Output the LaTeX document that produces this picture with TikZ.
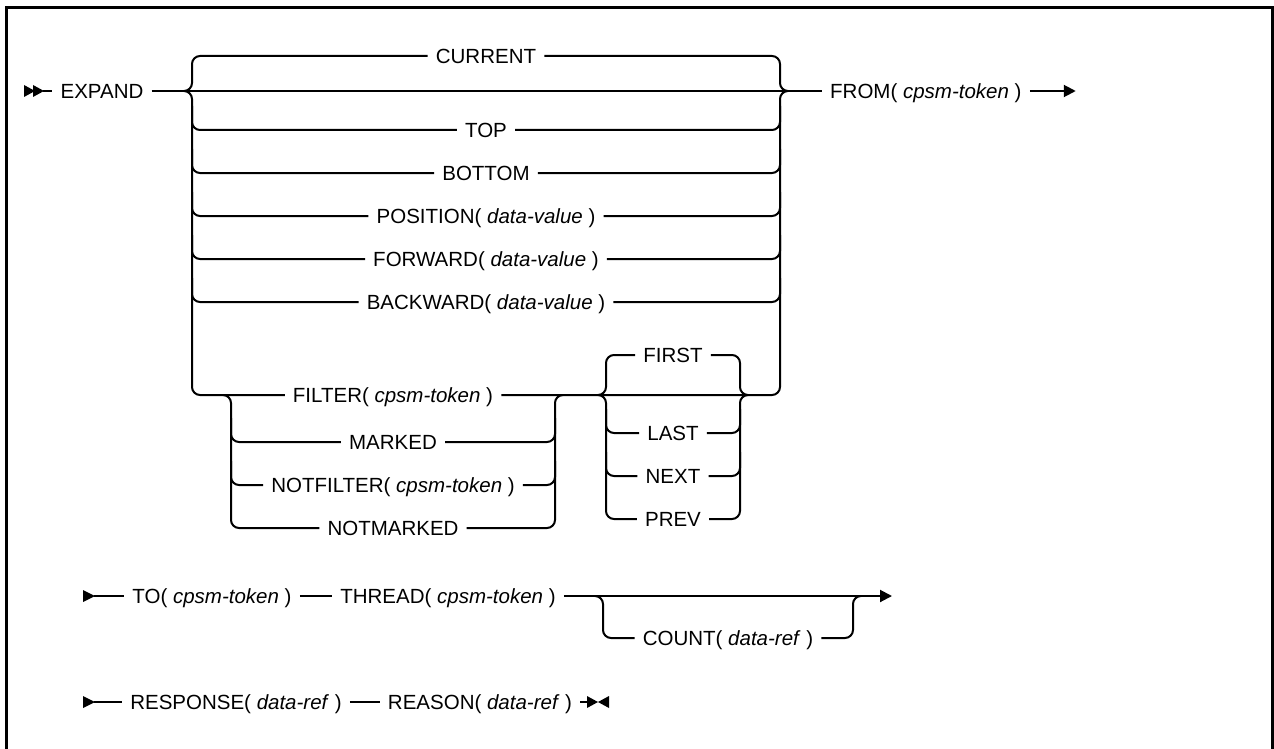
\documentclass[tikz,border=0pt]{standalone}
\usepackage{fontspec}
\setmainfont{Liberation Sans}
\usetikzlibrary{arrows.meta}
\begin{document}
\begin{tikzpicture}[x=1pt,y=-1pt,
  lbl/.style={font=\fontsize{20.5}{24}\selectfont, inner xsep=8pt, inner ysep=0pt, text height=14.5pt, text depth=0pt},
  rail/.style={line width=2pt, rounded corners=8pt},
  endtip/.style={-{Triangle[length=12pt,width=12pt]}},
  frame/.style={line width=3pt}]
\useasboundingbox (0,0) rectangle (1274,749);
\draw[frame] (6,770) -- (6,8) -- (1272,8) -- (1272,770);

% junction x positions
\coordinate (L) at (192,0);
\coordinate (R) at (780,0);
\coordinate (FL) at (231,0);
\coordinate (FR) at (555,0);
\coordinate (GL) at (606,0);
\coordinate (GR) at (740,0);

% labels
\node[lbl] (expand) at (102,91) {EXPAND};
\node[lbl] (cur) at (486,56) {CURRENT};
\node[lbl] (top) at (486,130) {TOP};
\node[lbl] (bot) at (486,173) {BOTTOM};
\node[lbl] (pos) at (486,216) {POSITION( \textit{data-value} )};
\node[lbl] (fwd) at (486,259) {FORWARD( \textit{data-value} )};
\node[lbl] (bwd) at (486,302) {BACKWARD( \textit{data-value} )};
\node[lbl] (filt) at (393,395) {FILTER( \textit{cpsm-token} )};
\node[lbl] (mark) at (393,442) {MARKED};
\node[lbl] (nfilt) at (393,485) {NOTFILTER( \textit{cpsm-token} )};
\node[lbl] (nmark) at (393,528) {NOTMARKED};
\node[lbl] (first) at (673,355) {FIRST};
\node[lbl] (last) at (673,433) {LAST};
\node[lbl] (next) at (673,476) {NEXT};
\node[lbl] (prev) at (673,519) {PREV};
\node[lbl,anchor=west] (from) at (822,91) {FROM( \textit{cpsm-token} )};
\node[lbl] (to) at (212,596) {TO( \textit{cpsm-token} )};
\node[lbl] (thread) at (448,596) {THREAD( \textit{cpsm-token} )};
\node[lbl] (count) at (728,638) {COUNT( \textit{data-ref} )};
\node[lbl] (resp) at (236,702) {RESPONSE( \textit{data-ref} )};
\node[lbl] (reason) at (480,702) {REASON( \textit{data-ref} )};

% row 1 start
\fill (24,85) -- (35,91) -- (24,97) -- cycle;
\fill (33,85) -- (44,91) -- (33,97) -- cycle;
\draw[rail] (43,91) -- (expand.west);
\draw[rail] (expand.east) -- (from.west);
\coordinate (e1) at ([xshift=46pt]from.east);
\draw[rail,endtip] (from.east) -- (e1);

% big choice
\draw[rail] (184,91) -| (192,56) -- (cur.west);
\draw[rail] (cur.east) -| (780,91) -- (788,91);
\draw[rail] (184,91) -| (192,395) -- (filt.west);
\foreach \n in {top,bot,pos,fwd,bwd}{
  \draw[rail] ([yshift=24pt]\n.west -| L) |- (\n.west);
  \draw[rail] (\n.east) -| ([yshift=24pt]\n.east -| R);
}
\draw[rail] (filt.east) -| (780,91) -- (788,91);

% filter group
\draw[rail] (223,395) -| (231,528) -- (nmark.west);
\draw[rail] (nmark.east) -| (555,395) -- (563,395);
\foreach \n in {mark,nfilt}{
  \draw[rail] ([yshift=24pt]\n.west -| FL) |- (\n.west);
  \draw[rail] (\n.east) -| ([yshift=24pt]\n.east -| FR);
}

% first group
\draw[rail] (598,395) -| (606,355) -- (first.west);
\draw[rail] (first.east) -| (740,395) -- (748,395);
\draw[rail] (598,395) -| (606,519) -- (prev.west);
\draw[rail] (prev.east) -| (740,395) -- (748,395);
\foreach \n in {last,next}{
  \draw[rail] ([yshift=24pt]\n.west -| GL) |- (\n.west);
  \draw[rail] (\n.east) -| ([yshift=24pt]\n.east -| GR);
}

% row 2
\fill (83,590) -- (95,596) -- (83,602) -- cycle;
\draw[rail] (94,596) -- (to.west);
\draw[rail] (to.east) -- (thread.west);
\coordinate (e2) at (892,596);
\draw[rail,endtip] (thread.east) -- (e2);
\draw[rail] (595,596) -| (603,638) -- (count.west);
\draw[rail] (count.east) -| (853,596) -- (861,596);

% row 3
\fill (83,696) -- (95,702) -- (83,708) -- cycle;
\draw[rail] (94,702) -- (resp.west);
\draw[rail] (resp.east) -- (reason.west);
\coordinate (e3) at (587,702);
\draw[rail] (reason.east) -- (e3);
\fill (e3) ++(0,-6) -- ++(11,6) -- ++(-11,6) -- cycle;
\fill (e3) ++(22,-6) -- ++(-11,6) -- ++(11,6) -- cycle;
\end{tikzpicture}
\end{document}
